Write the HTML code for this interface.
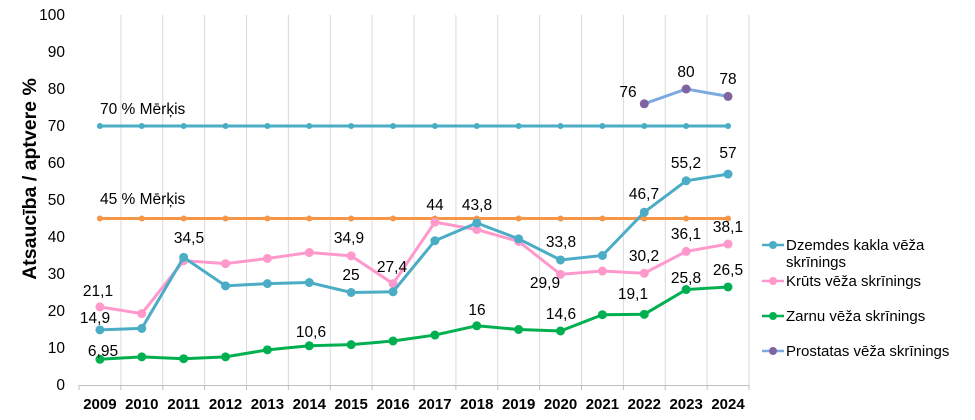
<!DOCTYPE html>
<html><head><meta charset="utf-8"><style>body{margin:0;background:#fff}svg{display:block;font-family:"Liberation Sans",sans-serif}</style></head>
<body>
<svg width="975" height="420" viewBox="0 0 975 420" xmlns="http://www.w3.org/2000/svg">
<g id="grid" stroke="#d9d9d9" stroke-width="1"></g>
<line x1="79" y1="385.5" x2="749" y2="385.5" stroke="#bfbfbf"/>
<g id="ticks" stroke="#bfbfbf"></g>
<g id="ylab" font-size="15.5" fill="#000" text-anchor="end"></g>
<g id="xlab" font-size="15" font-weight="bold" fill="#000" text-anchor="middle"></g>
<text transform="translate(36,179) rotate(-90)" font-size="19.5" font-weight="bold" text-anchor="middle">Atsaucība / aptvere %</text>
<g id="series"></g>
<g font-size="15.5" fill="#000" text-anchor="middle">
<text x="100" y="114" text-anchor="start">70 % Mērķis</text>
<text x="100" y="204" text-anchor="start">45 % Mērķis</text>
<text x="98" y="296">21,1</text>
<text x="95" y="323">14,9</text>
<text x="103" y="356">6,95</text>
<text x="189" y="243">34,5</text>
<text x="311" y="337">10,6</text>
<text x="349" y="243">34,9</text>
<text x="351" y="280">25</text>
<text x="392" y="272">27,4</text>
<text x="435" y="210">44</text>
<text x="477" y="210">43,8</text>
<text x="477" y="315">16</text>
<text x="561" y="247">33,8</text>
<text x="545" y="288">29,9</text>
<text x="561" y="319">14,6</text>
<text x="628" y="97">76</text>
<text x="686" y="77">80</text>
<text x="728" y="84">78</text>
<text x="686" y="168">55,2</text>
<text x="728" y="158">57</text>
<text x="644" y="199">46,7</text>
<text x="686" y="239">36,1</text>
<text x="728" y="232">38,1</text>
<text x="644" y="261">30,2</text>
<text x="633" y="299">19,1</text>
<text x="686" y="283">25,8</text>
<text x="728" y="275">26,5</text>
</g>
<g font-size="15" fill="#000">
<line x1="762" y1="245" x2="784" y2="245" stroke="#4bacc6" stroke-width="2.5"/><circle cx="773" cy="245" r="4" fill="#4bacc6"/>
<text x="786" y="250">Dzemdes kakla vēža</text><text x="786" y="267">skrīnings</text>
<line x1="762" y1="281" x2="784" y2="281" stroke="#ff99cc" stroke-width="2.5"/><circle cx="773" cy="281" r="4" fill="#ff99cc"/>
<text x="786" y="286">Krūts vēža skrīnings</text>
<line x1="762" y1="316" x2="784" y2="316" stroke="#00b050" stroke-width="2.5"/><circle cx="773" cy="316" r="4" fill="#00b050"/>
<text x="786" y="321">Zarnu vēža skrīnings</text>
<line x1="762" y1="351" x2="784" y2="351" stroke="#7caae0" stroke-width="2.5"/><circle cx="773" cy="351" r="4" fill="#8064a2"/>
<text x="786" y="356">Prostatas vēža skrīnings</text>
</g>
<script>
var ns="http://www.w3.org/2000/svg";
function X(i){return 99.9+i*41.875}
function Y(v){return 385-v*3.7}
function el(t,a,p){var e=document.createElementNS(ns,t);for(var k in a)e.setAttribute(k,a[k]);document.getElementById(p).appendChild(e);return e}
for(var i=1;i<=16;i++){var x=79+i*41.875;el('line',{x1:x,y1:15,x2:x,y2:385},'grid')}
for(var i=0;i<=16;i++){var x=79+i*41.875;el('line',{x1:x,y1:385,x2:x,y2:390},'ticks')}
for(var v=0;v<=100;v+=10){var t=el('text',{x:65,y:Y(v)+5},'ylab');t.textContent=v}
for(var i=0;i<16;i++){var t=el('text',{x:X(i),y:409},'xlab');t.textContent=2009+i}
function S(d,c,mc,r,start){var pts=d.map(function(v,i){return X(i+start)+','+Y(v)}).join(' ');
el('polyline',{points:pts,fill:'none',stroke:c,'stroke-width':3},'series');
d.forEach(function(v,i){el('circle',{cx:X(i+start),cy:Y(v),r:r,fill:mc},'series')})}
var f=[];for(var i=0;i<16;i++)f.push(70);S(f,'#4bacc6','#4bacc6',3,0);
f=[];for(var i=0;i<16;i++)f.push(45);S(f,'#f79646','#f79646',3,0);
S([21.1,19.3,33.6,32.8,34.2,35.8,34.9,27.4,44,42,38.8,29.9,30.8,30.2,36.1,38.1],'#ff99cc','#ff99cc',4.5,0);
S([14.9,15.3,34.5,26.8,27.4,27.7,25,25.2,39,43.8,39.5,33.8,35,46.7,55.2,57],'#4bacc6','#4bacc6',4.5,0);
S([6.95,7.6,7.1,7.6,9.5,10.6,10.9,11.9,13.5,16,15,14.6,19,19.1,25.8,26.5],'#00b050','#00b050',4.5,0);
S([76,80,78],'#7caae0','#8064a2',4.5,13);
</script>
</svg>
</body></html>
